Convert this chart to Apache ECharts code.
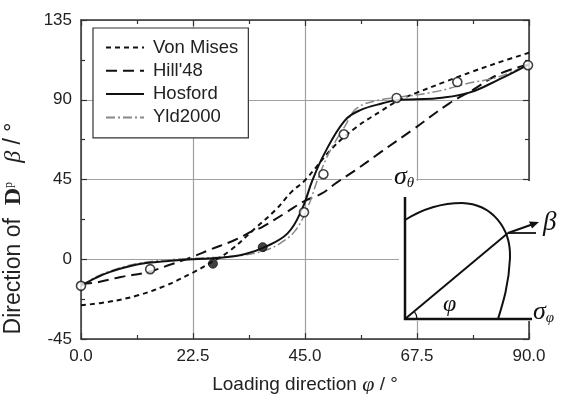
<!DOCTYPE html>
<html>
<head>
<meta charset="utf-8">
<script src="https://cdn.jsdelivr.net/npm/echarts@6/dist/echarts.min.js"></script>
<style>
  html, body { margin: 0; padding: 0; background: #fff; }
  #chart { width: 570px; height: 394px; }
</style>
</head>
<body>
<div id="chart"></div>
<script>
// 坐标轴刻度
var xTicks = [0, 22.5, 45, 67.5, 90];
var yTicks = [-45, 0, 45, 90, 135];

// Von Mises
var phiVM = [0, 5.6, 11.25, 16.9, 22.5, 26, 30, 35, 39, 42.3, 45, 50.6, 55.3, 60.5, 64, 67.5, 73, 78.75, 84.4, 90];
var betaVM = [-26, -24, -20.5, -15, -7.5, -2, 5, 17.5, 27.6, 38, 44.6, 63, 74.5, 84, 90, 94, 100, 106, 111.5, 116.5];

// Hill'48
var phiHill = [0, 3.3, 8, 13.3, 18, 22.5, 26, 31, 34.5, 36.3, 41, 45, 48.3, 51.5, 55, 60, 66.6, 74, 78.4, 84, 90];
var betaHill = [-14, -13, -10, -7.3, -3, 1.5, 5.5, 11, 16, 18, 26, 33, 37, 43.5, 50, 60, 73, 88, 95, 104.5, 110];

// Hosford
var phiHos = [0, 3, 6, 11.25, 16.9, 22.5, 28, 33, 36.9, 41.5, 44.3, 46.5, 48.9, 52.9, 56, 60.6, 64, 67.5, 72, 78, 84, 90];
var betaHos = [-15, -10.5, -7, -3, -1.2, 0, 0.8, 3, 6.8, 14.6, 27.6, 44.6, 59.6, 78, 84, 88, 90, 90.3, 91, 94, 101.5, 110];

// Yld2000
var phiYld = [0, 3, 6, 11.25, 16.9, 22.5, 28, 33, 37, 40, 43, 45.5, 47.5, 49.4, 51, 53, 55.3, 59.4, 64, 68, 72, 77.4, 84, 90];
var betaYld = [-15, -10, -6.5, -2.5, -0.5, 0.5, 1.2, 2.5, 5, 9, 16, 29, 44.6, 57.6, 66, 75, 85, 89.5, 91.5, 93, 95, 99, 103, 110];

// 实验点（空心 / 实心）
var expOpenPhi = [0, 13.9, 44.8, 48.7, 52.8, 63.4, 75.6, 89.8];
var expOpenBeta = [-15, -5.6, 26.5, 48, 70.5, 91, 100, 109.5];
var expFillPhi = [26.5, 36.5];
var expFillBeta = [-2.5, 6.8];

function pairs(xs, ys) {
    return xs.map(function (x, i) { return [x, ys[i]]; });
}

var font = 'Liberation Sans, Arial, sans-serif';
var serif = 'Liberation Serif, DejaVu Serif, serif';

var chart = echarts.init(document.getElementById('chart'));

var axisCommon = {
    type: 'value',
    axisLine: { show: true, onZero: false, lineStyle: { color: '#333', width: 1.5 } },
    axisTick: { show: true, inside: true, length: 6, lineStyle: { color: '#333', width: 1.2 } },
    minorTick: { show: true, splitNumber: 2, length: 4, lineStyle: { color: '#333', width: 1.2 } },
    splitLine: { show: false }
};

var option = {
    animation: false,
    backgroundColor: '#fff',
    textStyle: { fontFamily: font },
    grid: { left: 81, right: 41, top: 20, bottom: 55, outerBoundsMode: 'none', containLabel: false },
    legend: {
        data: ['Von Mises', "Hill'48", 'Hosford', 'Yld2000'],
        orient: 'vertical',
        left: 93,
        top: 28,
        itemWidth: 38,
        itemHeight: 14,
        itemGap: 4.3,
        padding: [10, 10, 11, 12],
        borderColor: '#333',
        borderWidth: 1.2,
        backgroundColor: '#fff',
        itemStyle: { opacity: 0 },
        textStyle: { fontSize: 18.5, lineHeight: 18, color: '#222', fontFamily: font, padding: [0, 0, 0, 4] }
    },
    xAxis: [
        Object.assign({}, axisCommon, {
            min: xTicks[0], max: xTicks[xTicks.length - 1], interval: 22.5,
            position: 'bottom',
            splitLine: { show: true, lineStyle: { color: '#a0a0a0', width: 1.2 } },
            axisLabel: {
                fontSize: 17, color: '#222', margin: 9,
                formatter: function (v) { return v.toFixed(1); }
            },
            name: 'Loading direction {g|φ} / °',
            nameLocation: 'middle',
            nameGap: 35,
            nameTextStyle: {
                fontSize: 19, color: '#222',
                rich: { g: { fontFamily: serif, fontStyle: 'italic', fontSize: 22 } }
            }
        }),
        Object.assign({}, axisCommon, {
            min: xTicks[0], max: xTicks[xTicks.length - 1], interval: 22.5,
            position: 'top',
            axisLabel: { show: false }
        })
    ],
    yAxis: [
        Object.assign({}, axisCommon, {
            min: yTicks[0], max: yTicks[yTicks.length - 1], interval: 45,
            position: 'left',
            splitLine: { show: true, lineStyle: { color: '#a0a0a0', width: 1.2 } },
            axisLabel: { fontSize: 17, color: '#222', margin: 9 },
            name: 'Direction of  {b|D}{p|p}   {g|β} / °',
            nameLocation: 'middle',
            nameRotate: 90,
            nameGap: 55,
            nameTextStyle: {
                fontSize: 23, color: '#222',
                padding: [0, 98, 0, 0],
                rich: {
                    b: { fontFamily: serif, fontWeight: 'bold', fontSize: 24 },
                    p: { fontFamily: serif, fontSize: 12, padding: [0, 0, 11, 0] },
                    g: { fontFamily: serif, fontStyle: 'italic', fontSize: 24 }
                }
            }
        }),
        Object.assign({}, axisCommon, {
            min: yTicks[0], max: yTicks[yTicks.length - 1], interval: 45,
            position: 'right',
            axisLabel: { show: false }
        })
    ],
    series: [
        {
            name: 'Von Mises', type: 'line', smooth: 0.4, symbol: 'none',
            data: pairs(phiVM, betaVM),
            lineStyle: { color: '#111', width: 2, type: [5, 4] },
            itemStyle: { color: '#111' }, z: 3
        },
        {
            name: "Hill'48", type: 'line', smooth: 0.4, symbol: 'none',
            data: pairs(phiHill, betaHill),
            lineStyle: { color: '#111', width: 2, type: [11, 6] },
            itemStyle: { color: '#111' }, z: 3
        },
        {
            name: 'Hosford', type: 'line', smooth: 0.4, symbol: 'none',
            data: pairs(phiHos, betaHos),
            lineStyle: { color: '#111', width: 2 },
            itemStyle: { color: '#111' }, z: 4
        },
        {
            name: 'Yld2000', type: 'line', smooth: 0.4, symbol: 'none',
            data: pairs(phiYld, betaYld),
            lineStyle: { color: '#888', width: 1.5, type: [9, 3, 2, 3] },
            itemStyle: { color: '#888' }, z: 3
        },
        {
            name: 'Exp', type: 'scatter', symbol: 'circle', symbolSize: 9,
            data: pairs(expOpenPhi, expOpenBeta),
            itemStyle: { color: '#fff', borderColor: '#111', borderWidth: 1.6 }, z: 5
        },
        {
            name: 'ExpFill', type: 'scatter', symbol: 'circle', symbolSize: 9,
            data: pairs(expFillPhi, expFillBeta),
            itemStyle: { color: '#111', borderColor: '#111', borderWidth: 1 }, z: 5
        }
    ],
    graphic: [
        // 插图底色
        { type: 'rect', z: 100, shape: { x: 399, y: 181, width: 166, height: 140 }, style: { fill: '#fff' } },
        // 坐标轴
        { type: 'polyline', z: 101, shape: { points: [[405, 197], [405, 319], [532, 319]] },
          style: { stroke: '#111', lineWidth: 2.5, fill: null } },
        // 屈服面
        { type: 'bezierCurve', z: 101,
          shape: { x1: 405, y1: 220, cpx1: 432, cpy1: 203, x2: 462, y2: 203 },
          style: { stroke: '#111', lineWidth: 2, fill: null } },
        { type: 'bezierCurve', z: 101,
          shape: { x1: 462, y1: 203, cpx1: 492, cpy1: 204, cpx2: 511, cpy2: 228, x2: 510, y2: 258 },
          style: { stroke: '#111', lineWidth: 2, fill: null } },
        { type: 'bezierCurve', z: 101,
          shape: { x1: 510, y1: 258, cpx1: 509, cpy1: 284, cpx2: 503, cpy2: 303, x2: 498, y2: 319 },
          style: { stroke: '#111', lineWidth: 2, fill: null } },
        // 加载方向
        { type: 'line', z: 101, shape: { x1: 405, y1: 319, x2: 508, y2: 233 }, style: { stroke: '#111', lineWidth: 2 } },
        { type: 'line', z: 101, shape: { x1: 508, y1: 233, x2: 536, y2: 233 }, style: { stroke: '#111', lineWidth: 1.8 } },
        { type: 'line', z: 101, shape: { x1: 508, y1: 233, x2: 532, y2: 224.5 }, style: { stroke: '#111', lineWidth: 2 } },
        { type: 'polygon', z: 101, shape: { points: [[539, 222], [529, 221.5], [532, 228.5]] }, style: { fill: '#111' } },
        { type: 'arc', z: 101, shape: { cx: 405, cy: 319, r: 12, startAngle: -0.7, endAngle: 0, clockwise: true },
          style: { stroke: '#111', lineWidth: 1.2, fill: null } },
        // 标注
        { type: 'text', z: 102, x: 392, y: 164,
          style: { text: '{s|σ}{t|θ}', backgroundColor: '#fff', padding: [0, 2, 0, 2],
                   rich: { s: { fontFamily: serif, fontStyle: 'italic', fontSize: 26, fill: '#111' },
                           t: { fontFamily: serif, fontStyle: 'italic', fontSize: 15, fill: '#111', padding: [12, 0, 0, 0] } } } },
        { type: 'text', z: 102, x: 543, y: 209,
          style: { text: 'β', fontFamily: serif, fontStyle: 'italic', fontSize: 27, fill: '#111' } },
        { type: 'text', z: 102, x: 443, y: 293,
          style: { text: 'φ', fontFamily: serif, fontStyle: 'italic', fontSize: 24, fill: '#111' } },
        { type: 'text', z: 102, x: 533, y: 299,
          style: { text: '{s|σ}{t|φ}',
                   rich: { s: { fontFamily: serif, fontStyle: 'italic', fontSize: 26, fill: '#111' },
                           t: { fontFamily: serif, fontStyle: 'italic', fontSize: 15, fill: '#111', padding: [12, 0, 0, 0] } } } }
    ]
};

chart.setOption(option);
</script>
</body>
</html>
